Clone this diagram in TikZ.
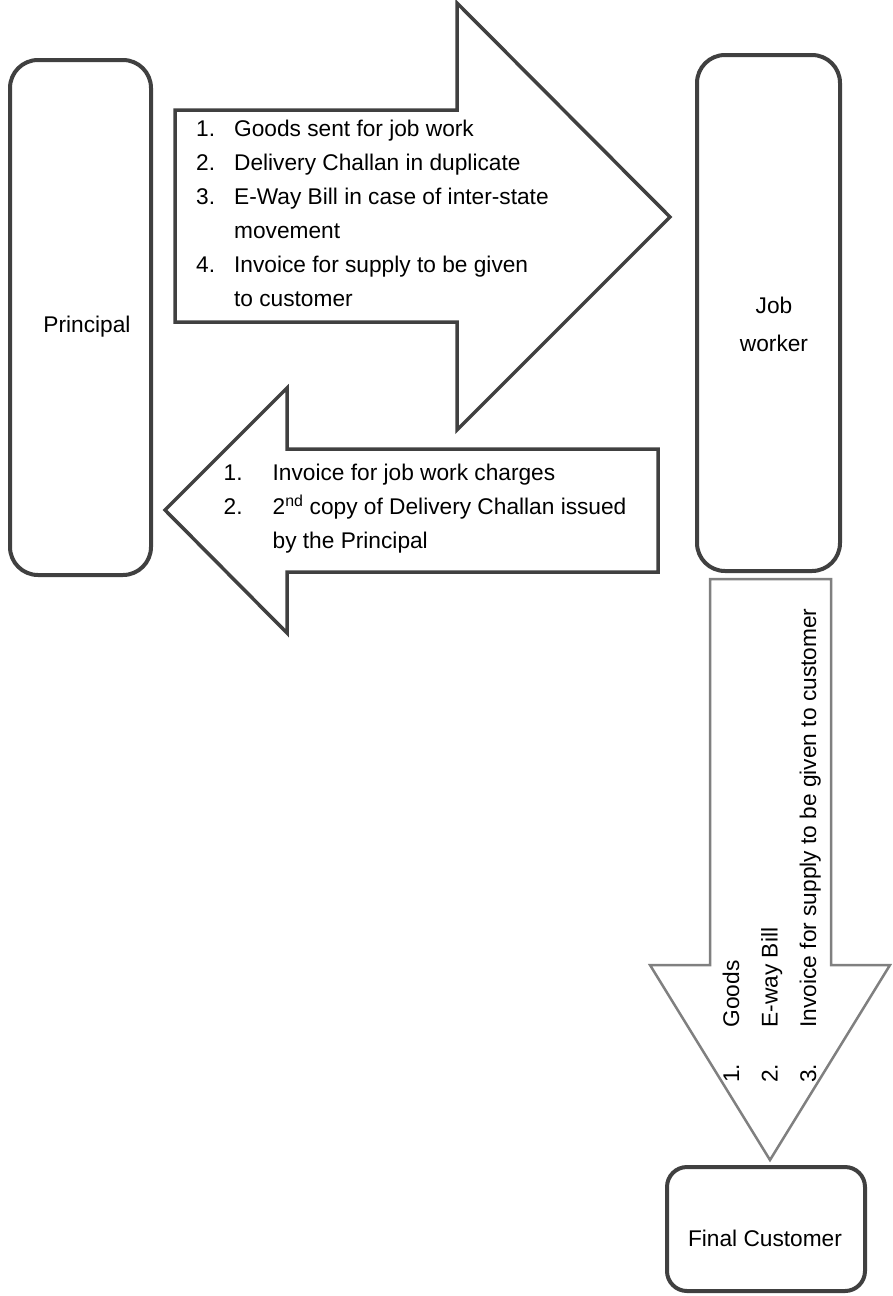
\documentclass[tikz,border=0pt]{standalone}
\usepackage{fontspec}
\setmainfont{Liberation Sans}
\definecolor{edgegray}{HTML}{404040}
\definecolor{pathgray}{HTML}{808080}

\begin{document}
\begin{tikzpicture}[x=1pt, y=-1pt,
    box/.style={draw=edgegray, line width=4pt, rounded corners=28pt, inner sep=0pt},
    boxlabel/.style={inner sep=0pt, align=center, font=\fontsize{22.7}{38}\selectfont},
    bigarrow/.style={draw=edgegray, line width=3.5pt},
    downarrow/.style={draw=pathgray, line width=2.5pt},
    listtext/.style={inner sep=0pt, anchor=north west}]
  \useasboundingbox (0,0) rectangle (892,1296);

  % the three parties
  \node[box, minimum width=141pt, minimum height=515pt] (principal) at (80.5,317.5) {};
  \node[box, minimum width=143pt, minimum height=516pt] (jobworker) at (768.5,313) {};
  \node[box, rounded corners=20pt, minimum width=198pt, minimum height=124pt] (customer) at (766,1229) {};
  \node[boxlabel] (principal label) at (87,327) {Principal};
  \node[boxlabel] (jobworker label) at (774,324) {Job\\worker};
  \node[boxlabel] (customer label) at (765,1238) {Final Customer};

  % principal -> job worker
  \draw[bigarrow]
    (175,110) coordinate (pa) -- (457,110) -- (457,3) -- (670,217) coordinate (pb)
    -- (457,430) -- (457,322) -- (175,322) -- cycle;
  \node[listtext, font=\fontsize{22.7}{34}\selectfont] (sendlist) at (196,112.5)
    {\begin{tabular}{@{}l@{\hspace{19pt}}l@{}}
      1. & Goods sent for job work\\
      2. & Delivery Challan in duplicate\\
      3. & E-Way Bill in case of inter-state\\
         & movement\\
      4. & Invoice for supply to be given\\
         & to customer
    \end{tabular}};

  % job worker -> principal
  \draw[bigarrow]
    (658,449) coordinate (ja) -- (287,449) -- (287,388) -- (165,510) coordinate (jb)
    -- (287,633) -- (287,572) -- (658,572) -- cycle;
  \node[listtext, font=\fontsize{22.7}{34}\selectfont] (returnlist) at (223.5,456)
    {\begin{tabular}{@{}l@{\hspace{30pt}}l@{}}
      1. & Invoice for job work charges\\
      2. & 2\textsuperscript{nd} copy of Delivery Challan issued\\
         & by the Principal
    \end{tabular}};

  % job worker -> final customer
  \draw[downarrow]
    (710,579) coordinate (ca) -- (710,965) -- (650,965) -- (770,1160) coordinate (cb)
    -- (890,965) -- (831,965) -- (831,579) -- cycle;
  \node[listtext, rotate=90, font=\fontsize{22.7}{38.5}\selectfont] (supplylist) at (712,1083)
    {\begin{tabular}{@{}l@{\hspace{36.5pt}}l@{}}
      1. & Goods\\
      2. & E-way Bill\\
      3. & Invoice for supply to be given to customer
    \end{tabular}};
\end{tikzpicture}
\end{document}
